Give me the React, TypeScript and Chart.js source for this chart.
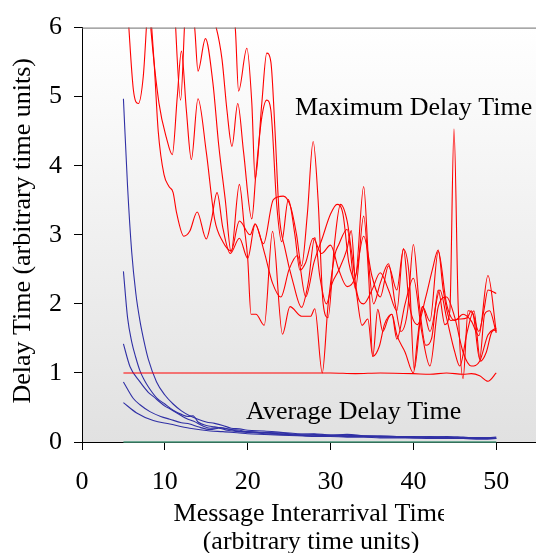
import React, { useEffect, useRef } from 'react';
import { Chart, registerables } from 'chart.js';

Chart.register(...registerables);

const FONT = "'Liberation Serif', 'Times New Roman', Times, serif";
Chart.defaults.font.family = FONT;

// ---- tick values ----
const xTickValues = [0, 10, 20, 30, 40, 50];
const yTickValues = [0, 1, 2, 3, 4, 5, 6];

// ---- texts ----
const yAxisTitle = 'Delay Time (arbitrary time units)';
const xAxisTitleLine1 = 'Message Interarrival Time';
const xAxisTitleLine2 = '(arbitrary time units)';
const maxLabel = 'Maximum Delay Time';
const avgLabel = 'Average Delay Time';

// ---- maximum delay time series (x, y) ----
const maxRun1: [number, number][] = [
  [5, 7.6], [6, 7.8], [7, 7.5], [8, 7.2], [9, 7.0], [10, 7.2], [11, 7.0], [12, 6.8], [13, 6.5], [13.6, 6.0],
  [14, 5.37], [14.9, 5.84], [15.8, 5.2], [16.5, 4.3], [17.3, 3.5], [18, 2.75], [19, 3.73], [19.6, 3.1], [20, 2.66],
  [20.4, 1.85], [21, 1.85], [22, 1.69], [23, 3.05], [24.2, 1.56], [25.1, 1.96], [26.5, 1.82], [27.6, 1.82],
  [28.1, 1.93], [29, 1.0], [29.7, 1.98], [30.5, 2.7], [31, 2.86], [32, 3.08], [33, 2.22], [34, 3.27], [34.6, 2.4],
  [35.1, 1.24], [35.7, 1.92], [36.3, 1.6], [37, 1.8], [37.4, 1.85], [38, 1.49], [39, 2.0], [40, 2.37], [41, 1.6],
  [42, 1.1], [43, 1.96], [44, 2.1], [45, 1.8], [46, 1.3], [47, 1.1], [48, 1.17], [49, 1.55], [50, 1.65],
];
const maxRun2: [number, number][] = [
  [5, 7.2], [5.6, 6.1], [6.2, 5.1], [6.8, 4.9], [7.4, 5.3], [8, 6.4], [9, 7.0], [10, 7.1], [11, 6.6], [11.9, 4.95],
  [12.5, 6.3], [13.5, 6.8], [14.5, 6.4], [15.5, 6.2], [16.2, 6.0], [16.9, 5.54], [17.5, 4.8], [18.1, 4.28],
  [18.8, 4.9], [19.5, 4.2], [20.5, 3.23], [21, 3.9], [21.7, 4.7], [22.3, 4.95], [22.8, 4.8], [23.5, 3.44],
  [24.1, 2.9], [24.9, 3.51], [25.7, 3.0], [26.3, 2.49], [27, 2.6], [27.9, 2.95], [28.9, 2.73], [30, 2.85],
  [31, 2.49], [32, 2.25], [33, 2.39], [34, 2.98], [35, 2.4], [36, 2.1], [37, 2.55], [38, 2.2], [38.8, 2.79],
  [39.5, 2.4], [40.1, 1.05], [41.1, 1.96], [42, 1.75], [43, 2.76], [44, 2.0], [45, 1.76], [46, 1.85], [47, 1.75],
  [47.9, 1.54], [49, 2.41], [50, 1.6],
];
const maxRun3: [number, number][] = [
  [5, 7.8], [6, 7.5], [7, 7.0], [8, 6.5], [8.3, 6.0], [9.3, 4.9], [10.2, 4.4], [10.9, 4.16], [11.5, 5.0], [12, 5.66],
  [12.6, 4.8], [13.2, 4.09], [14, 4.97], [15, 4.2], [16, 3.23], [17, 2.9], [18, 2.77], [19, 3.2], [20.3, 3.0],
  [20.9, 3.16], [21.9, 2.87], [23.1, 3.51], [24.3, 3.56], [25.2, 3.4], [25.9, 3.0], [26.5, 2.55], [27.2, 3.3],
  [27.9, 4.35], [28.5, 3.5], [29.1, 2.01], [29.7, 1.8], [30.5, 2.9], [31.2, 3.44], [32, 3.2], [32.6, 2.7], [33, 2.4],
  [34, 3.7], [34.6, 2.6], [35.2, 2.0], [36, 2.3], [37, 2.58], [37.8, 2.0], [38.5, 1.6], [39.3, 1.9], [40, 2.86],
  [40.7, 2.0], [41.5, 1.4], [42.2, 1.5], [43, 2.2], [43.8, 1.7], [44.4, 1.9], [44.9, 4.53], [45.4, 2.0],
  [46, 0.92], [46.6, 1.9], [47.2, 1.85], [48, 1.2], [48.6, 1.85], [49.2, 1.9], [50, 1.58],
];
const maxRun4: [number, number][] = [
  [5, 7.9], [6, 7.6], [7, 7.2], [8, 6.6], [8.7, 5.5], [9.2, 4.5], [9.9, 3.87], [10.5, 3.7], [11, 3.61], [11.4, 3.33],
  [12.3, 2.98], [13, 3.05], [13.9, 3.33], [15, 2.94], [15.6, 3.2], [16.3, 3.61], [17, 3.1], [17.9, 2.73], [19, 2.95],
  [20, 2.66], [20.9, 3.15], [22, 2.75], [23, 2.3], [24, 2.1], [25, 2.5], [26, 2.7], [27, 2.1], [28, 2.6], [29, 2.95],
  [30, 3.3], [30.8, 3.44], [31.5, 3.3], [32.2, 2.6], [33, 2.25], [33.8, 1.69], [34.5, 1.78], [35.1, 1.24],
  [35.9, 1.39], [36.5, 1.7], [37.4, 1.85], [38, 1.55], [39, 1.3], [40, 1.0], [40.5, 1.5], [41.1, 1.96], [42, 1.6],
  [43.2, 2.2], [44, 1.8], [45, 1.3], [45.6, 1.1], [46.5, 1.6], [47.3, 1.9], [48.1, 1.17], [48.8, 1.3], [49.5, 1.6],
  [50, 1.62],
];
const maxRun5: [number, number][] = [
  [5, 8.0], [7, 8.0], [9, 7.5], [11, 7.2], [13, 7.0], [15, 6.8], [17, 6.6], [18, 6.3], [18.5, 6.0], [18.9, 5.08],
  [19.9, 5.7], [20.5, 4.9], [20.9, 3.8], [21.7, 4.9], [22.3, 5.63], [22.8, 5.5], [23.3, 4.5], [23.8, 3.3],
  [24.5, 2.8], [25.5, 2.3], [26.5, 1.95], [27.3, 2.3], [28.1, 2.96], [28.7, 2.4], [29.5, 2.0], [30.2, 2.3],
  [31, 2.49], [32, 2.8], [32.5, 3.06], [33, 2.3], [34, 2.0], [35, 2.2], [36, 2.45], [37, 2.2], [38, 1.9],
  [38.8, 2.8], [39.5, 2.0], [40.5, 1.7], [41.5, 2.1], [42.3, 2.5], [43, 2.78], [43.6, 2.2], [44.5, 1.76],
  [45.5, 1.78], [46.5, 1.8], [47, 1.9], [47.9, 1.6], [48.5, 1.9], [49, 2.2], [50, 2.15],
];
const maxRun6: [number, number][] = [
  [5, 1.0], [30, 1.0], [33, 0.99], [36, 1.0], [40, 0.99], [42, 0.98], [44, 1.0], [46, 0.98], [47, 0.99],
  [48, 0.96], [49, 0.88], [50, 1.0],
];

// ---- average delay time series (x, y) ----
const avgRun1: [number, number][] = [
  [5, 4.97], [5.5, 3.7], [6, 2.75], [6.5, 2.15], [7, 1.75], [7.5, 1.45], [8, 1.2], [9, 0.87], [10, 0.68], [11, 0.55],
  [12, 0.45], [13, 0.38], [14, 0.33], [15, 0.29], [16, 0.27], [17, 0.24], [18, 0.2], [19, 0.19], [20, 0.17],
  [22, 0.16], [24, 0.14], [26, 0.12], [28, 0.11], [30, 0.1], [32, 0.11], [34, 0.09], [36, 0.08], [38, 0.08],
  [40, 0.07], [42, 0.08], [44, 0.07], [46, 0.06], [48, 0.06], [50, 0.07],
];
const avgRun2: [number, number][] = [
  [5, 2.47], [5.5, 1.8], [6, 1.45], [6.5, 1.22], [7, 1.03], [7.5, 0.9], [8, 0.8], [9, 0.64], [10, 0.55], [11, 0.46],
  [12, 0.4], [12.8, 0.37], [13.4, 0.38], [14, 0.29], [15, 0.24], [16, 0.22], [17, 0.2], [18, 0.18], [19, 0.17],
  [20, 0.15], [22, 0.14], [24, 0.13], [26, 0.11], [28, 0.12], [30, 0.1], [32, 0.1], [34, 0.09], [36, 0.09],
  [38, 0.08], [40, 0.08], [42, 0.07], [44, 0.08], [46, 0.07], [48, 0.06], [50, 0.06],
];
const avgRun3: [number, number][] = [
  [5, 1.42], [5.8, 1.09], [7, 0.87], [8, 0.72], [8.6, 0.66], [10, 0.52], [10.6, 0.48], [12, 0.38], [12.6, 0.34],
  [13.5, 0.3], [14.6, 0.23], [15.5, 0.2], [16.5, 0.21], [18, 0.18], [19, 0.15], [20, 0.15], [22, 0.13], [24, 0.12],
  [26, 0.1], [28, 0.1], [30, 0.09], [32, 0.1], [34, 0.08], [36, 0.08], [38, 0.07], [40, 0.07], [42, 0.07],
  [44, 0.06], [46, 0.06], [48, 0.06], [50, 0.05],
];
const avgRun4: [number, number][] = [
  [5, 0.87], [6.2, 0.63], [7, 0.54], [8.2, 0.44], [9.5, 0.37], [10.6, 0.33], [12, 0.28], [13, 0.26], [14, 0.22],
  [15.5, 0.18], [16.5, 0.2], [17.5, 0.17], [19, 0.15], [20, 0.14], [22, 0.12], [24, 0.11], [26, 0.1], [28, 0.09],
  [30, 0.09], [32, 0.08], [34, 0.08], [36, 0.07], [38, 0.07], [40, 0.06], [42, 0.06], [44, 0.06], [46, 0.05],
  [48, 0.05], [50, 0.05],
];
const avgRun5: [number, number][] = [
  [5, 0.57], [6.6, 0.42], [8.6, 0.31], [10.6, 0.26], [13, 0.2], [15.5, 0.16], [17, 0.15], [19, 0.13], [20, 0.12],
  [22, 0.11], [24, 0.1], [26, 0.09], [28, 0.08], [30, 0.08], [32, 0.07], [34, 0.07], [36, 0.06], [38, 0.06],
  [40, 0.06], [42, 0.05], [44, 0.05], [46, 0.05], [48, 0.04], [50, 0.05],
];
const baselineRun: [number, number][] = [[5, 0], [50, 0]];

const maxRuns = [maxRun1, maxRun2, maxRun3, maxRun4, maxRun5, maxRun6];
const avgRuns = [avgRun1, avgRun2, avgRun3, avgRun4, avgRun5];

const RED = '#ff0000';
const BLUE = 'rgb(48,48,165)';
const TEAL = 'rgb(70,150,120)';

const toPts = (arr: [number, number][]) => arr.map(([x, y]) => ({ x, y }));

const decorPlugin = {
  id: 'decor',
  beforeDraw(chart: any) {
    const { ctx, chartArea: a } = chart;
    const g = ctx.createLinearGradient(0, a.top, 0, a.bottom);
    g.addColorStop(0, '#ffffff');
    g.addColorStop(1, '#e1e1e1');
    ctx.save();
    ctx.fillStyle = g;
    ctx.fillRect(a.left, a.top, a.right - a.left, a.bottom - a.top);
    ctx.restore();
  },
  afterDraw(chart: any) {
    const { ctx, chartArea: a, scales } = chart;
    const xs = scales.x;
    const ys = scales.y;
    ctx.save();
    ctx.strokeStyle = '#6e6e6e';
    ctx.lineWidth = 1;
    ctx.beginPath();
    ctx.moveTo(a.left, a.top + 0.5);
    ctx.lineTo(a.right, a.top + 0.5);
    ctx.stroke();

    ctx.fillStyle = '#000';
    ctx.font = `26px ${FONT}`;
    ctx.textAlign = 'left';
    ctx.textBaseline = 'alphabetic';
    ctx.fillText(maxLabel, xs.getPixelForValue(25.7), ys.getPixelForValue(4.73));
    ctx.fillText(avgLabel, xs.getPixelForValue(19.8), ys.getPixelForValue(0.33));

    ctx.save();
    ctx.translate(23, (a.top + a.bottom) / 2 - 4);
    ctx.rotate(-Math.PI / 2);
    ctx.textAlign = 'center';
    ctx.textBaseline = 'middle';
    ctx.fillText(yAxisTitle, 0, 0);
    ctx.restore();

    const cx = (a.left + a.right) / 2 + 2;
    ctx.textAlign = 'center';
    ctx.save();
    ctx.beginPath();
    ctx.rect(0, 490, 444, 40);
    ctx.clip();
    ctx.fillText(xAxisTitleLine1, cx, 521);
    ctx.restore();
    ctx.fillText(xAxisTitleLine2, cx, 549);
    ctx.restore();
  },
};

export default function App() {
  const ref = useRef<HTMLCanvasElement | null>(null);
  useEffect(() => {
    if (!ref.current) return;
    const datasets: any[] = [];
    maxRuns.forEach((r, i) => {
      datasets.push({
        label: `max${i + 1}`,
        data: toPts(r),
        borderColor: RED,
        borderWidth: 1.1,
        pointRadius: 0,
        tension: 0.4,
        cubicInterpolationMode: 'monotone',
        fill: false,
      });
    });
    avgRuns.forEach((r, i) => {
      datasets.push({
        label: `avg${i + 1}`,
        data: toPts(r),
        borderColor: BLUE,
        borderWidth: 1.1,
        pointRadius: 0,
        tension: 0.4,
        cubicInterpolationMode: 'monotone',
        fill: false,
      });
    });
    datasets.push({
      label: 'base',
      data: toPts(baselineRun),
      borderColor: TEAL,
      borderWidth: 1.5,
      pointRadius: 0,
      fill: false,
      clip: 3,
    });

    const tickFont = { family: FONT, size: 26, style: 'normal' as const, weight: 'normal' as const };

    const chart = new Chart(ref.current, {
      type: 'line',
      data: { datasets },
      options: {
        animation: false,
        responsive: true,
        maintainAspectRatio: false,
        layout: { padding: { top: 22, right: 0, left: 0, bottom: 0 } },
        plugins: { legend: { display: false }, tooltip: { enabled: false }, title: { display: false } },
        scales: {
          x: {
            type: 'linear',
            min: 0,
            max: 54.8,
            afterBuildTicks: (s: any) => { s.ticks = xTickValues.map((v) => ({ value: v })); },
            afterFit: (s: any) => { s.height = 111; },
            ticks: {
              color: '#000',
              font: tickFont,
              padding: 17,
              maxRotation: 0,
              autoSkip: false,
            },
            grid: { drawOnChartArea: false, drawTicks: true, tickLength: 8, color: '#000', lineWidth: 1 },
            border: { display: true, color: '#000', width: 1 },
          },
          y: {
            type: 'linear',
            min: 0,
            max: 6,
            afterBuildTicks: (s: any) => { s.ticks = yTickValues.map((v) => ({ value: v })); },
            afterFit: (s: any) => { s.width = 82; },
            ticks: {
              color: '#000',
              font: tickFont,
              padding: 12,
              autoSkip: false,
            },
            grid: { drawOnChartArea: false, drawTicks: true, tickLength: 8, color: '#000', lineWidth: 1 },
            border: { display: true, color: '#000', width: 1 },
          },
        },
      },
      plugins: [decorPlugin],
    });
    return () => chart.destroy();
  }, []);

  return (
    <div style={{ position: 'fixed', left: 0, top: 0, width: 536, height: 553, overflow: 'hidden', background: '#fff' }}>
      <canvas ref={ref} />
    </div>
  );
}
